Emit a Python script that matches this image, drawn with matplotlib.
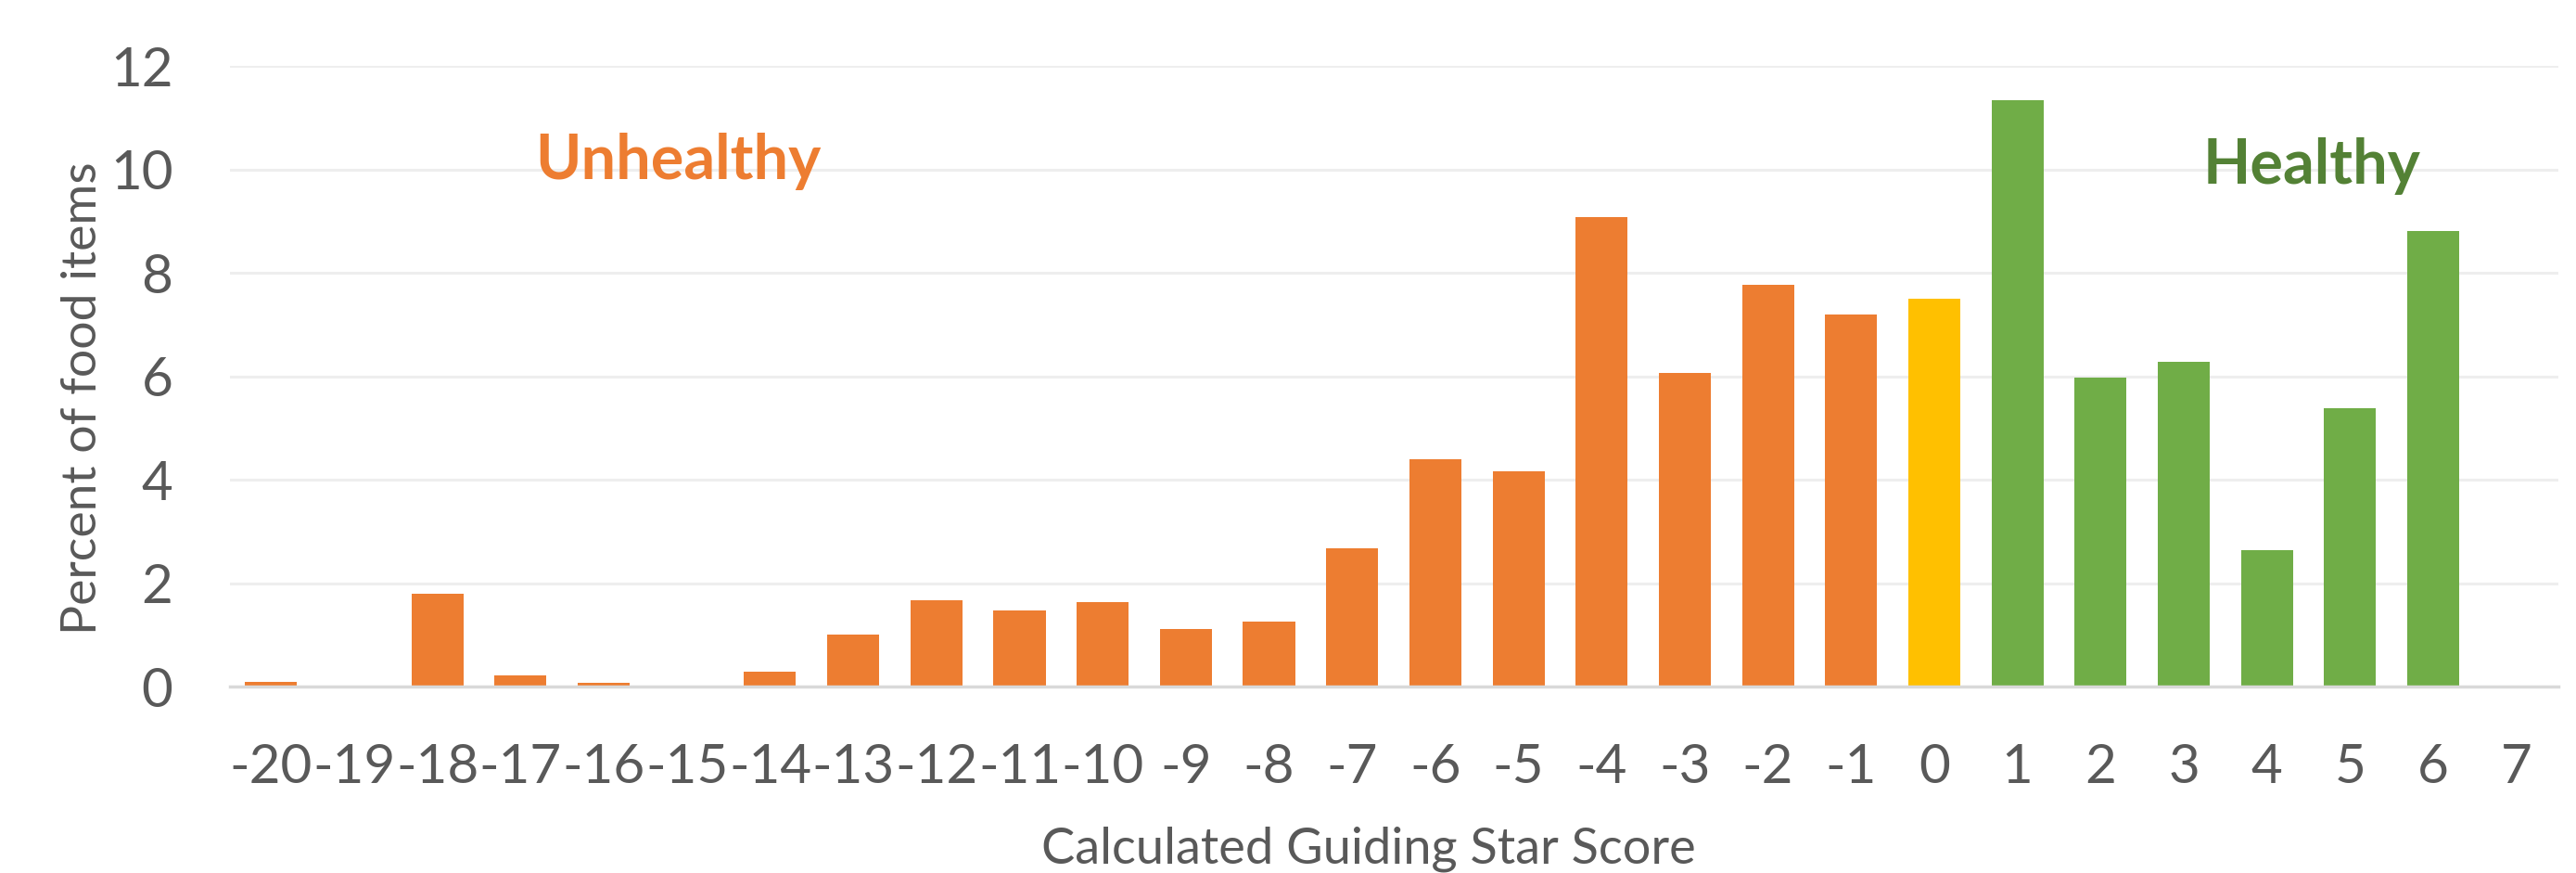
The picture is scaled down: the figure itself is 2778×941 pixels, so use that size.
import matplotlib
matplotlib.use("Agg")
import matplotlib.pyplot as plt
import numpy as np

scores = list(range(-20, 8))
tick_labels = [str(s) for s in scores]
values = [0.09, 0.02, 1.80, 0.22, 0.08, 0.0, 0.29, 1.00, 1.67, 1.47, 1.64, 1.12, 1.25,
          2.67, 4.40, 4.17, 9.07, 6.07, 7.76, 7.19, 7.49, 11.33, 5.98, 6.28, 2.64,
          5.38, 8.81, 0.0]

ORANGE = "#ED7D31"
YELLOW = "#FFC000"
GREEN = "#70AD47"
DARK_GREEN = "#538135"
colors = [ORANGE if s < 0 else (YELLOW if s == 0 else GREEN) for s in scores]

plt.rcParams['font.family'] = ['Lato', 'DejaVu Sans']

fig = plt.figure(figsize=(27.78, 9.41), dpi=100)
left, right, bottom, top = 0.0891, 0.9930, 0.2136, 0.9245
ax = fig.add_axes([left, bottom, right - left, top - bottom])

x = np.arange(len(scores))
ax.bar(x, values, width=0.625, color=colors, zorder=3)

ax.set_xlim(-0.5, len(scores) - 0.5)
ax.set_ylim(0, 12)
ax.set_yticks([0, 2, 4, 6, 8, 10, 12])
ax.set_xticks(x)
ax.set_xticklabels(tick_labels)

ax.grid(axis='y', color='#EEEEEE', linewidth=2.2, zorder=0)
ax.set_axisbelow(True)
for side in ['top', 'right', 'left']:
    ax.spines[side].set_visible(False)
ax.spines['bottom'].set_color('#D9D9D9')
ax.spines['bottom'].set_linewidth(2.5)
ax.spines['bottom'].set_zorder(4)

ax.tick_params(axis='both', length=0, labelsize=42, labelcolor='#595959')
ax.tick_params(axis='y', pad=44)
ax.tick_params(axis='x', pad=44)

ax.set_xlabel('Calculated Guiding Star Score', fontsize=39, color='#595959', labelpad=26)
ax.set_ylabel('Percent of food items', fontsize=38.5, color='#595959', labelpad=4)
ax.yaxis.label.set_y(0.465)
ax.xaxis.label.set_x(0.489)

ax.text(4.90, 9.81, 'Unhealthy', fontsize=48, fontweight='bold', color=ORANGE,
        ha='center', va='baseline')
ax.text(24.54, 9.72, 'Healthy', fontsize=48, fontweight='bold', color=DARK_GREEN,
        ha='center', va='baseline')

fig.savefig('out.png', dpi=100, facecolor='white')
